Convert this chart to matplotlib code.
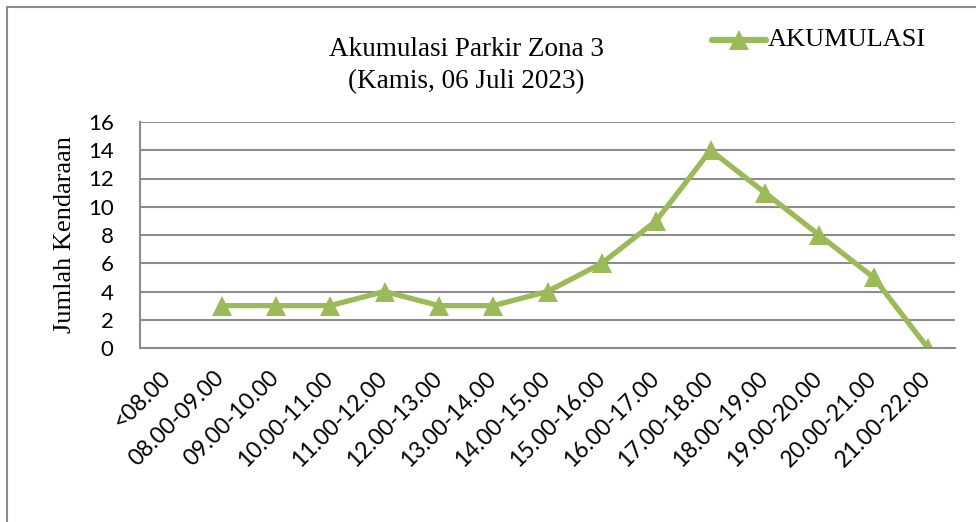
import matplotlib
matplotlib.use("Agg")
import matplotlib.pyplot as plt
from matplotlib.lines import Line2D
import matplotlib.transforms as mtransforms
import numpy as np

categories = ["<08.00", "08.00-09.00", "09.00-10.00", "10.00-11.00", "11.00-12.00",
              "12.00-13.00", "13.00-14.00", "14.00-15.00", "15.00-16.00", "16.00-17.00",
              "17.00-18.00", "18.00-19.00", "19.00-20.00", "20.00-21.00", "21.00-22.00"]
akumulasi = [np.nan, 3, 3, 3, 4, 3, 3, 4, 6, 9, 14, 11, 8, 5, 0]
yticks = [0, 2, 4, 6, 8, 10, 12, 14, 16]

W, H = 976, 522
fig = plt.figure(figsize=(W / 100, H / 100), dpi=100)
green = "#9BBB59"
serif = "Liberation Serif"
sans = "Lato"

# axes: plot area x 140..955, y 122..348 (pixels, top-origin)
ax = fig.add_axes([140 / W, 1 - 348 / H, (955 - 140) / W, (348 - 122) / H])
x = np.arange(len(categories))
ax.plot(x, akumulasi, color=green, lw=3.8, marker="^", markersize=14,
        markeredgewidth=0, markerfacecolor=green, solid_joinstyle="miter")
ax.set_xlim(-0.5, len(categories) - 0.5)
ax.set_ylim(0, 16)
ax.set_yticks(yticks)
ax.set_yticklabels([str(v) for v in yticks], fontfamily=sans, fontsize=16)
ax.set_xticks(x)
ax.set_xticklabels(categories, rotation=45, ha="right", rotation_mode="anchor",
                   fontfamily=sans, fontsize=16.5)
ax.tick_params(axis="both", length=0)
ax.tick_params(axis="y", pad=19)
ax.tick_params(axis="x", pad=9)
shift = mtransforms.ScaledTranslation(-8 / 100, -7 / 100, fig.dpi_scale_trans)
for lbl in ax.get_xticklabels():
    lbl.set_transform(lbl.get_transform() + shift)
ax.grid(axis="y", color="#8c8c8c", lw=1.5)
ax.set_axisbelow(True)
for s in ["top", "right"]:
    ax.spines[s].set_visible(False)
ax.spines["left"].set_color("#8c8c8c")
ax.spines["left"].set_linewidth(1.5)
ax.spines["bottom"].set_color("#8c8c8c")
ax.spines["bottom"].set_linewidth(1.5)

fig.text(65 / W, 1 - 235 / H, "Jumlah Kendaraan", ha="center", va="center",
         rotation=90, fontfamily=serif, fontsize=19)

fig.text(466 / W, 1 - 50 / H, "Akumulasi Parkir Zona 3", ha="center", va="center",
         fontfamily=serif, fontsize=19.5)
fig.text(466 / W, 1 - 82 / H, "(Kamis, 06 Juli 2023)", ha="center", va="center",
         fontfamily=serif, fontsize=19.5)

# legend
leg_line = Line2D([712 / W, 766 / W], [1 - 40 / H, 1 - 40 / H], transform=fig.transFigure,
                  color=green, lw=4.5, solid_capstyle="round")
leg_mark = Line2D([739 / W], [1 - 40 / H], transform=fig.transFigure, color=green,
                  marker="^", markersize=15, markeredgewidth=0, linestyle="none")
fig.add_artist(leg_line)
fig.add_artist(leg_mark)
fig.text(768 / W, 1 - 40 / H, "AKUMULASI", ha="left", va="center",
         fontfamily=serif, fontsize=19)

# outer border (left and top visible)
fig.add_artist(Line2D([6.5 / W, 6.5 / W], [0, 1 - 7 / H], transform=fig.transFigure,
                      color="#8c8c8c", lw=1.5))
fig.add_artist(Line2D([6.5 / W, 1], [1 - 7 / H, 1 - 7 / H], transform=fig.transFigure,
                      color="#8c8c8c", lw=1.5))

fig.savefig("out.png", dpi=100)
